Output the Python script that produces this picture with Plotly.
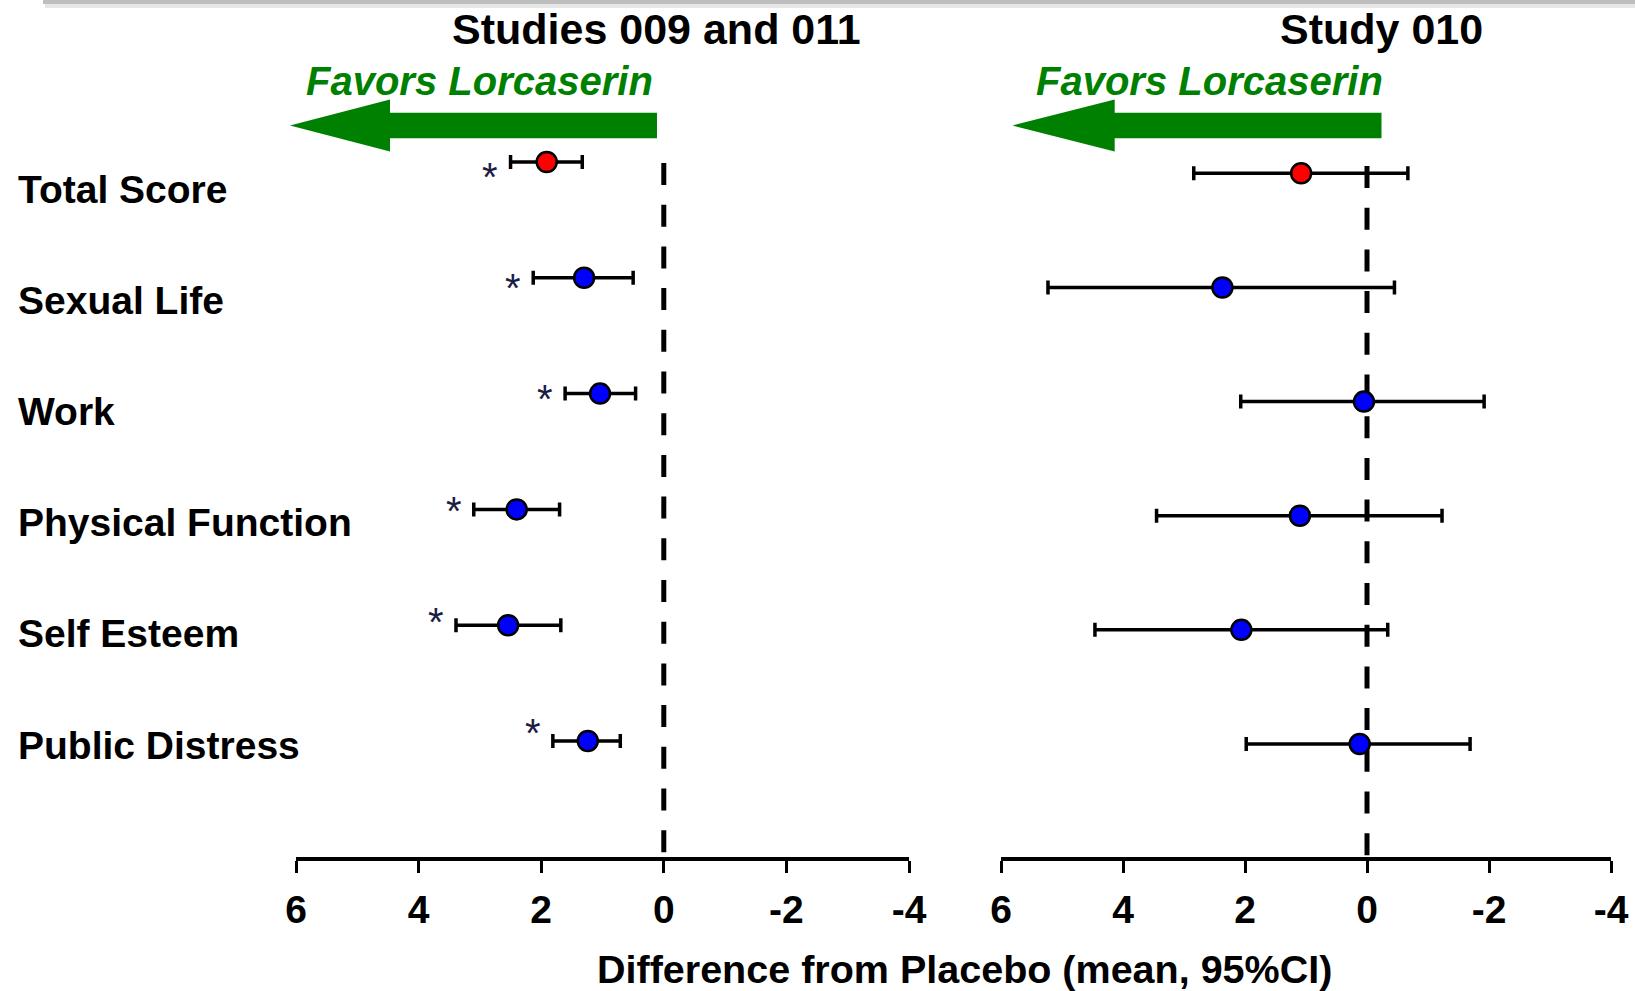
import plotly.graph_objects as go

W, H = 1635, 991

# ---------------- data ----------------
categories = ["Total Score", "Sexual Life", "Work", "Physical Function", "Self Esteem", "Public Distress"]

# Studies 009 and 011 (difference from placebo, mean and 95% CI bounds)
s1_mean = [1.91, 1.30, 1.04, 2.40, 2.54, 1.24]
s1_ci_low = [1.33, 0.50, 0.46, 1.70, 1.68, 0.71]
s1_ci_high = [2.50, 2.13, 1.61, 3.10, 3.39, 1.81]
s1_significant = [True, True, True, True, True, True]

# Study 010
s2_mean = [1.08, 2.37, 0.05, 1.10, 2.06, 0.12]
s2_ci_low = [-0.67, -0.45, -1.92, -1.23, -0.34, -1.69]
s2_ci_high = [2.84, 5.23, 2.07, 3.45, 4.46, 1.98]

panel_titles = ["Studies 009 and 011", "Study 010"]
favors_text = "Favors Lorcaserin"
x_title = "Difference from Placebo (mean, 95%CI)"
tick_vals = [6, 4, 2, 0, -2, -4]
tick_text = ["6", "4", "2", "0", "-2", "-4"]

# ---------------- styling ----------------
FONT = "Arial, Liberation Sans, sans-serif"
GREEN = "#008000"
point_colors = ["#ff0000"] + ["#0000ff"] * 5

def px(x):
    return x / W

def py(y):
    return 1 - y / H

n = len(categories)
rows = [n - i for i in range(n)]  # Total Score at top

fig = go.Figure()

def add_panel(means, lo, hi, xa, ya):
    fig.add_trace(go.Scatter(
        x=means, y=rows, mode="markers", xaxis=xa, yaxis=ya,
        marker=dict(size=20, color=point_colors, line=dict(color="black", width=2.5)),
        error_x=dict(type="data", symmetric=False,
                     array=[h - m for h, m in zip(hi, means)],
                     arrayminus=[m - l for m, l in zip(means, lo)],
                     color="black", thickness=3.5, width=7),
        showlegend=False, hoverinfo="skip", cliponaxis=False,
    ))

add_panel(s1_mean, s1_ci_low, s1_ci_high, "x", "y")
add_panel(s2_mean, s2_ci_low, s2_ci_high, "x2", "y2")
# dummy trace for label axis
fig.add_trace(go.Scatter(x=[None], y=[None], xaxis="x", yaxis="y3", showlegend=False, hoverinfo="skip"))

ydom = [py(857), py(140)]
axis_common = dict(
    range=[6, -4], tickvals=tick_vals, ticktext=tick_text, ticks="outside",
    ticklen=12, tickwidth=3, tickcolor="black", showline=True, linewidth=3.5,
    linecolor="black", showgrid=False, zeroline=False, automargin=False,
    ticklabelstandoff=3,
    tickfont=dict(family=FONT, size=39, color="black", weight="bold"),
    fixedrange=True,
)
fig.update_layout(
    width=W, height=H, autosize=False, margin=dict(l=0, r=0, t=0, b=0, pad=0, autoexpand=False),
    paper_bgcolor="white", plot_bgcolor="white",
    xaxis=dict(domain=[px(296), px(909)], anchor="y", **axis_common),
    xaxis2=dict(domain=[px(1001), px(1611)], anchor="y2", **axis_common),
    yaxis=dict(domain=ydom, range=[-0.0017, 6.19], visible=False, anchor="x", automargin=False),
    yaxis2=dict(domain=ydom, range=[0.01, 6.2917], visible=False, anchor="x2", automargin=False),
    yaxis3=dict(domain=ydom, range=[-0.0072, 6.4406], visible=False, overlaying="y", anchor="x",
                automargin=False),
)

shapes = []
# top gray slide border shadow
shapes.append(dict(type="rect", xref="paper", yref="paper", x0=px(43), x1=1, y0=py(4), y1=1,
                   fillcolor="#bdbdbd", line=dict(width=0), layer="below"))
shapes.append(dict(type="rect", xref="paper", yref="paper", x0=px(45), x1=1, y0=py(8), y1=py(4),
                   fillcolor="#e6e6e6", line=dict(width=0), layer="below"))

# dashed reference lines at zero
for xa, top in (("x", 163), ("x2", 166)):
    shapes.append(dict(type="line", xref=xa, yref="paper", x0=0, x1=0, y0=py(top), y1=py(857),
                       line=dict(color="black", width=5, dash="22px,19.7px"), layer="below"))

# green arrows
def arrow(tip, base, tail, yc, shaft_half, head_half):
    pts = [(tip, yc), (base, yc - head_half), (base, yc - shaft_half), (tail, yc - shaft_half),
           (tail, yc + shaft_half), (base, yc + shaft_half), (base, yc + head_half)]
    path = "M " + " L ".join(f"{px(x):.5f},{py(y):.5f}" for x, y in pts) + " Z"
    return dict(type="path", xref="paper", yref="paper", path=path,
                fillcolor=GREEN, line=dict(width=0))

shapes.append(arrow(290, 390, 657, 125.5, 12.8, 26))
shapes.append(arrow(1012.5, 1114.7, 1381.5, 125.5, 12.8, 26))
fig.update_layout(shapes=shapes)

ann = []
# panel titles
for txt, cx in zip(panel_titles, (656, 1381)):
    ann.append(dict(text=txt, x=px(cx), y=py(29), xref="paper", yref="paper", showarrow=False,
                    xanchor="center", yanchor="middle",
                    font=dict(family=FONT, size=43, color="black", weight="bold")))
# favors text
for cx in (479.5, 1209):
    ann.append(dict(text=favors_text, x=px(cx), y=py(81), xref="paper", yref="paper", showarrow=False,
                    xanchor="center", yanchor="middle",
                    font=dict(family=FONT, size=40, color=GREEN, weight="bold", style="italic")))
# category labels
for cat, r in zip(categories, rows):
    ann.append(dict(text=cat, x=px(16), y=r, xref="paper", yref="y3", showarrow=False,
                    xanchor="left", yanchor="middle",
                    font=dict(family=FONT, size=39, color="black", weight="bold")))
# significance asterisks
for sig, h, r in zip(s1_significant, s1_ci_high, rows):
    if sig:
        ann.append(dict(text="*", x=h + 0.33, y=r, xref="x", yref="y3", showarrow=False,
                        xanchor="center", yanchor="middle", yshift=12,
                        font=dict(family=FONT, size=40, color="#1c1c44")))
# x-axis title
ann.append(dict(text=x_title, x=px(964.5), y=py(969), xref="paper", yref="paper", showarrow=False,
                xanchor="center", yanchor="middle",
                font=dict(family=FONT, size=39.5, color="black", weight="bold")))
fig.update_layout(annotations=ann)

post = (
    "document.documentElement.style.margin='0';"
    "document.documentElement.style.overflow='hidden';"
    "document.body.style.margin='0';document.body.style.overflow='hidden';"
    "var gd=document.getElementById('{plot_id}');"
    "Plotly.relayout(gd,{width:%d,height:%d,autosize:false});" % (W, H)
)

fig.write_html(
    "out.html",
    config={"responsive": False, "displayModeBar": False},
    post_script=post,
)
